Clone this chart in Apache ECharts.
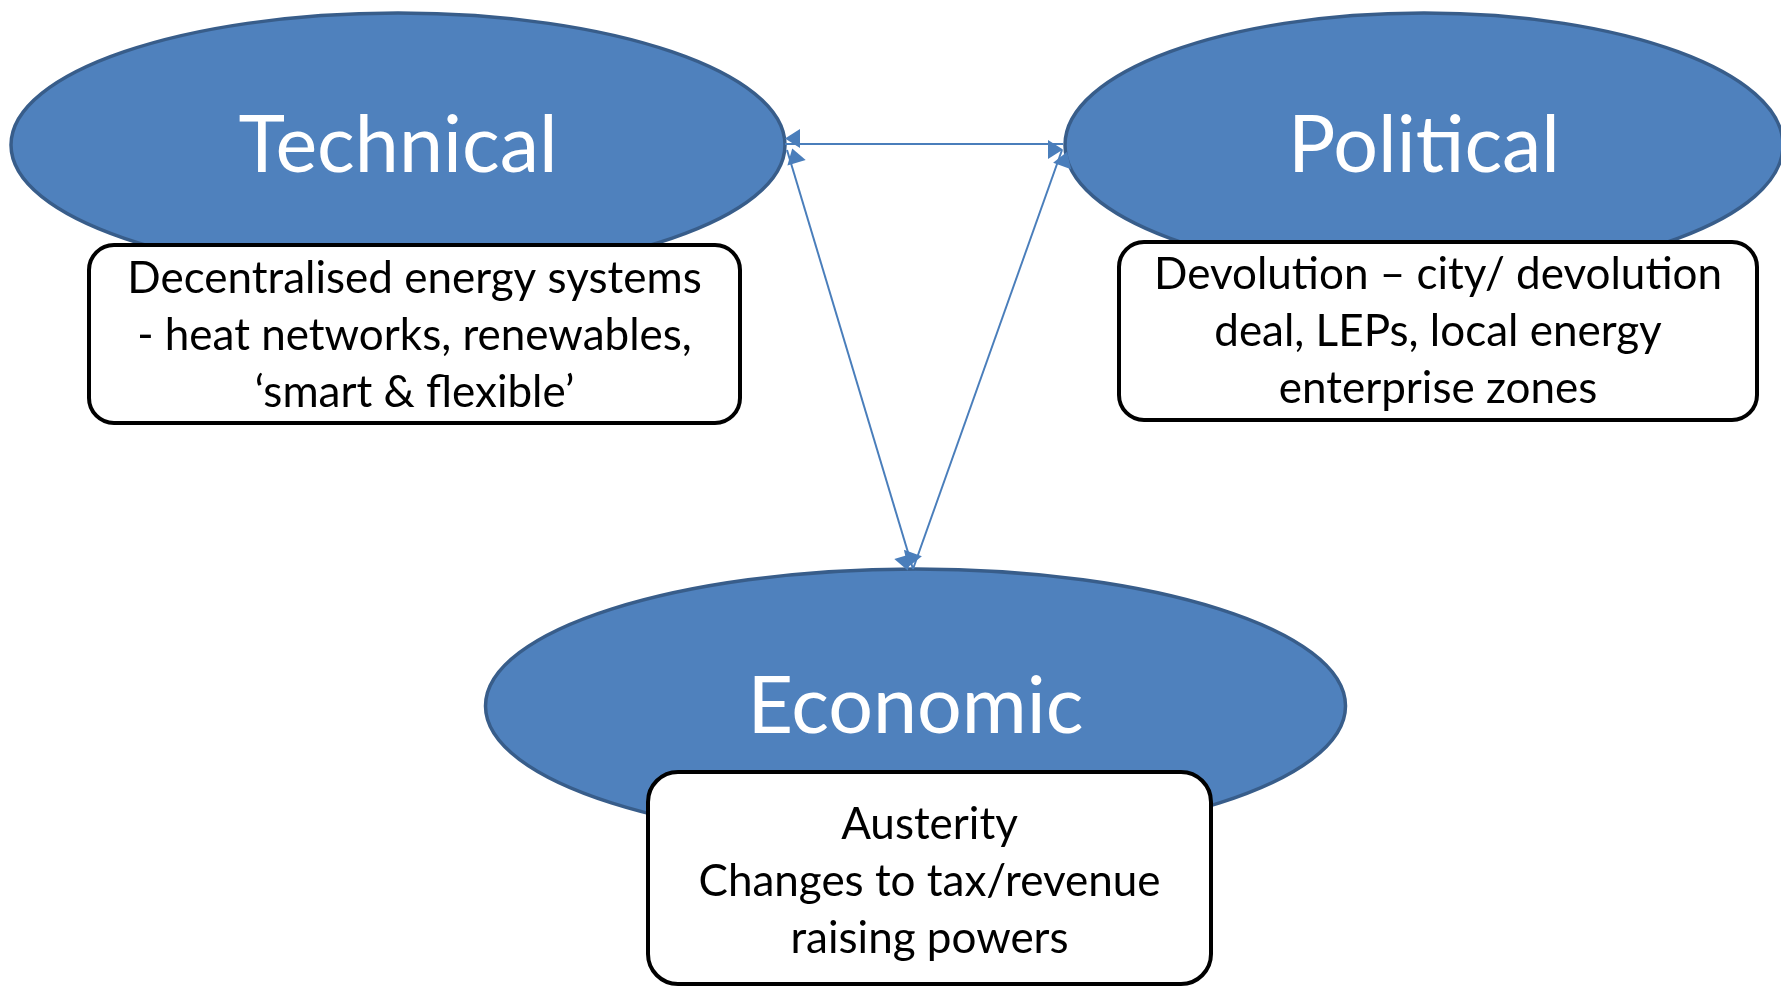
<!DOCTYPE html>
<html lang="en">
<head>
    <meta charset="UTF-8">
    <title>Technical / Political / Economic</title>
    <script src="https://cdn.jsdelivr.net/npm/echarts@6/dist/echarts.min.js"></script>
</head>
<style>
    html, body { margin: 0; padding: 0; background: #fff; }
    #container { width: 1781px; height: 986px; }
</style>
<body>
<div id="container"></div>
<script>
    // the three themes (ellipses)
    const nodeNames = ['Technical', 'Political', 'Economic'];
    const nodeCenterX = [398, 1424, 915.5];
    const nodeCenterY = [145, 145, 706];
    const nodeRadiusX = [387, 359, 430];
    const nodeRadiusY = [132, 132, 137];

    // text boxes under each theme
    const boxTexts = [
        'Decentralised energy systems\n- heat networks, renewables,\n\u2018smart & flexible\u2019',
        'Devolution \u2013 city/ devolution\ndeal, LEPs, local energy\nenterprise zones',
        'Austerity\nChanges to tax/revenue\nraising powers'
    ];
    const boxLeft = [89, 1119, 648];
    const boxTop = [245, 242, 772];
    const boxRight = [740, 1757, 1211];
    const boxBottom = [423, 420, 984];
    const boxTextY = [336, 332, 882];

    // double headed arrows between the themes
    const linkFrom = [[785, 144], [787, 150], [1062, 150]];
    const linkTo = [[1063, 144], [913, 569], [913, 569]];

    // filled triangle whose tip sits at the symbol centre (so at the line end)
    const arrowHead = 'path://M0,0L0,0M15,15L22,30L8,30Z';

    var chart = echarts.init(document.getElementById('container'));

    const ellipseData = nodeNames.map((n, i) => [nodeCenterX[i], nodeCenterY[i], nodeRadiusX[i], nodeRadiusY[i], n]);
    const boxData = boxTexts.map((t, i) => [boxLeft[i], boxTop[i], boxRight[i], boxBottom[i], boxTextY[i], t]);
    const linkData = linkFrom.map((f, i) => ({ coords: [f, linkTo[i]] }));

    var option = {
        animation: false,
        grid: { left: 0, right: 0, top: 0, bottom: 0 },
        xAxis: { type: 'value', min: 0, max: 1781, show: false },
        yAxis: { type: 'value', min: 0, max: 986, inverse: true, show: false },
        series: [
            {
                type: 'custom',
                z: 1,
                data: ellipseData,
                renderItem: function (params, api) {
                    const c = api.coord([api.value(0), api.value(1)]);
                    const e = api.coord([api.value(0) + api.value(2), api.value(1) + api.value(3)]);
                    return {
                        type: 'group',
                        children: [
                            {
                                type: 'ellipse',
                                shape: { cx: c[0], cy: c[1], rx: e[0] - c[0], ry: e[1] - c[1] },
                                style: { fill: '#4F81BD', stroke: '#385D8A', lineWidth: 3.5 }
                            },
                            {
                                type: 'text',
                                x: c[0],
                                y: c[1] + 2,
                                style: {
                                    text: nodeNames[params.dataIndex],
                                    fill: '#fff',
                                    fontFamily: 'Lato',
                                    fontSize: 79,
                                    align: 'center',
                                    verticalAlign: 'middle'
                                }
                            }
                        ]
                    };
                }
            },
            {
                type: 'custom',
                z: 2,
                data: boxData,
                renderItem: function (params, api) {
                    const a = api.coord([api.value(0), api.value(1)]);
                    const b = api.coord([api.value(2), api.value(3)]);
                    const cx = (a[0] + b[0]) / 2;
                    const ty = api.coord([0, api.value(4)])[1];
                    return {
                        type: 'group',
                        children: [
                            {
                                type: 'rect',
                                shape: { x: a[0], y: a[1], width: b[0] - a[0], height: b[1] - a[1], r: params.dataIndex === 2 ? 30 : 25 },
                                style: { fill: '#fff', stroke: '#000', lineWidth: 4 }
                            },
                            {
                                type: 'text',
                                x: cx,
                                y: ty,
                                style: {
                                    text: boxTexts[params.dataIndex],
                                    fill: '#000',
                                    fontFamily: 'Lato',
                                    fontSize: 44,
                                    lineHeight: 57,
                                    align: 'center',
                                    verticalAlign: 'middle'
                                }
                            }
                        ]
                    };
                }
            },
            {
                type: 'lines',
                coordinateSystem: 'cartesian2d',
                z: 3,
                symbol: [arrowHead, arrowHead],
                symbolSize: 30,
                lineStyle: { color: '#4A7EBB', width: 2, opacity: 1, type: 'solid' },
                itemStyle: { color: '#4A7EBB' },
                data: linkData
            }
        ]
    };

    chart.setOption(option);
</script>
</body>
</html>
